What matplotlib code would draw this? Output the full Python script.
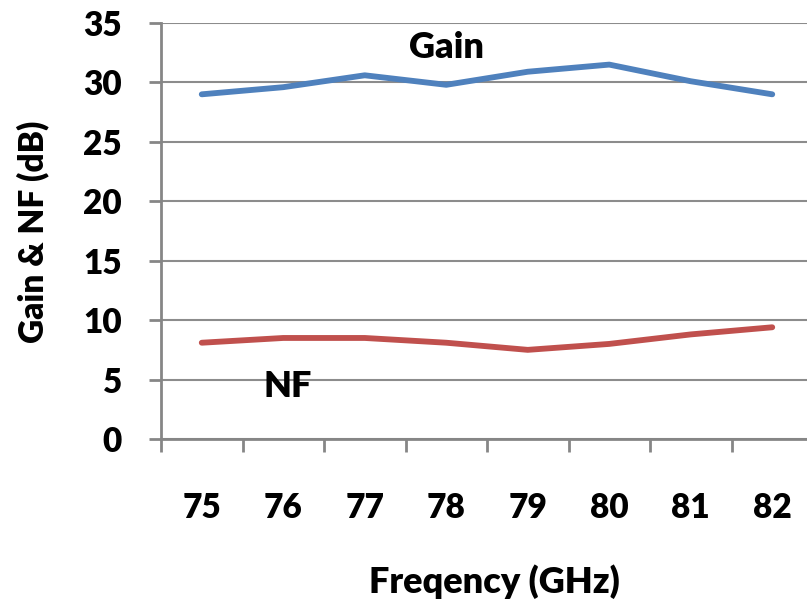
import matplotlib
matplotlib.use("Agg")
import matplotlib.pyplot as plt
import numpy as np

# Frequency points (GHz) and measured responses (dB)
freq_labels = ["75", "76", "77", "78", "79", "80", "81", "82"]
gain_db = [29.0, 29.6, 30.6, 29.8, 30.9, 31.5, 30.1, 29.0]
nf_db = [8.1, 8.5, 8.5, 8.1, 7.5, 8.0, 8.8, 9.4]
y_ticks = [0, 5, 10, 15, 20, 25, 30, 35]

FONT = "Lato"
WEIGHT = 800
FS = 24
FS_TEXT = 26

W, H = 807, 603
fig = plt.figure(figsize=(W / 100, H / 100), dpi=100)
left, right = 161, 813
bottom, top = 439, 23
ax = fig.add_axes([left / W, (H - bottom) / H, (right - left) / W, (bottom - top) / H])

x = np.arange(len(freq_labels))
ax.plot(x, gain_db, color="#4F81BD", lw=4.2, solid_capstyle="round", solid_joinstyle="round", zorder=3)
ax.plot(x, nf_db, color="#C0504D", lw=4.2, solid_capstyle="round", solid_joinstyle="round", zorder=3)

ax.set_xlim(-0.5, len(freq_labels) - 0.5)
ax.set_ylim(0, 35)

axis_gray = "#868686"
ax.set_yticks(y_ticks)
ax.set_yticklabels([str(v) for v in y_ticks], family=FONT, fontsize=FS, fontweight=WEIGHT)
ax.yaxis.grid(True, color="#8C8C8C", lw=1.5)
ax.set_axisbelow(True)

ax.set_xticks(x)
ax.set_xticklabels(freq_labels, family=FONT, fontsize=FS, fontweight=WEIGHT)
ax.set_xticks(np.arange(-0.5, len(freq_labels), 1.0), minor=True)
ax.tick_params(axis="x", which="major", length=0, pad=38)
ax.tick_params(axis="x", which="minor", length=9, width=2, color=axis_gray, direction="out")
ax.tick_params(axis="y", length=9, width=2, color=axis_gray, direction="out", pad=19)

for side in ["top", "right"]:
    ax.spines[side].set_visible(False)
for side in ["left", "bottom"]:
    ax.spines[side].set_color(axis_gray)
    ax.spines[side].set_linewidth(2)

ax.text(3.0, 32.9, "Gain", family=FONT, fontsize=FS_TEXT, fontweight=WEIGHT, ha="center", va="center")
ax.text(1.05, 4.45, "NF", family=FONT, fontsize=FS_TEXT, fontweight=WEIGHT, ha="center", va="center")

fig.text(494 / W, 1 - 582 / H, "Freqency (GHz)", family=FONT, fontsize=FS_TEXT, fontweight=WEIGHT,
         ha="center", va="center")
fig.text(33 / W, 1 - 232 / H, "Gain & NF (dB)", family=FONT, fontsize=FS, fontweight=WEIGHT,
         ha="center", va="center", rotation=90)

fig.savefig("out.png", dpi=100)
